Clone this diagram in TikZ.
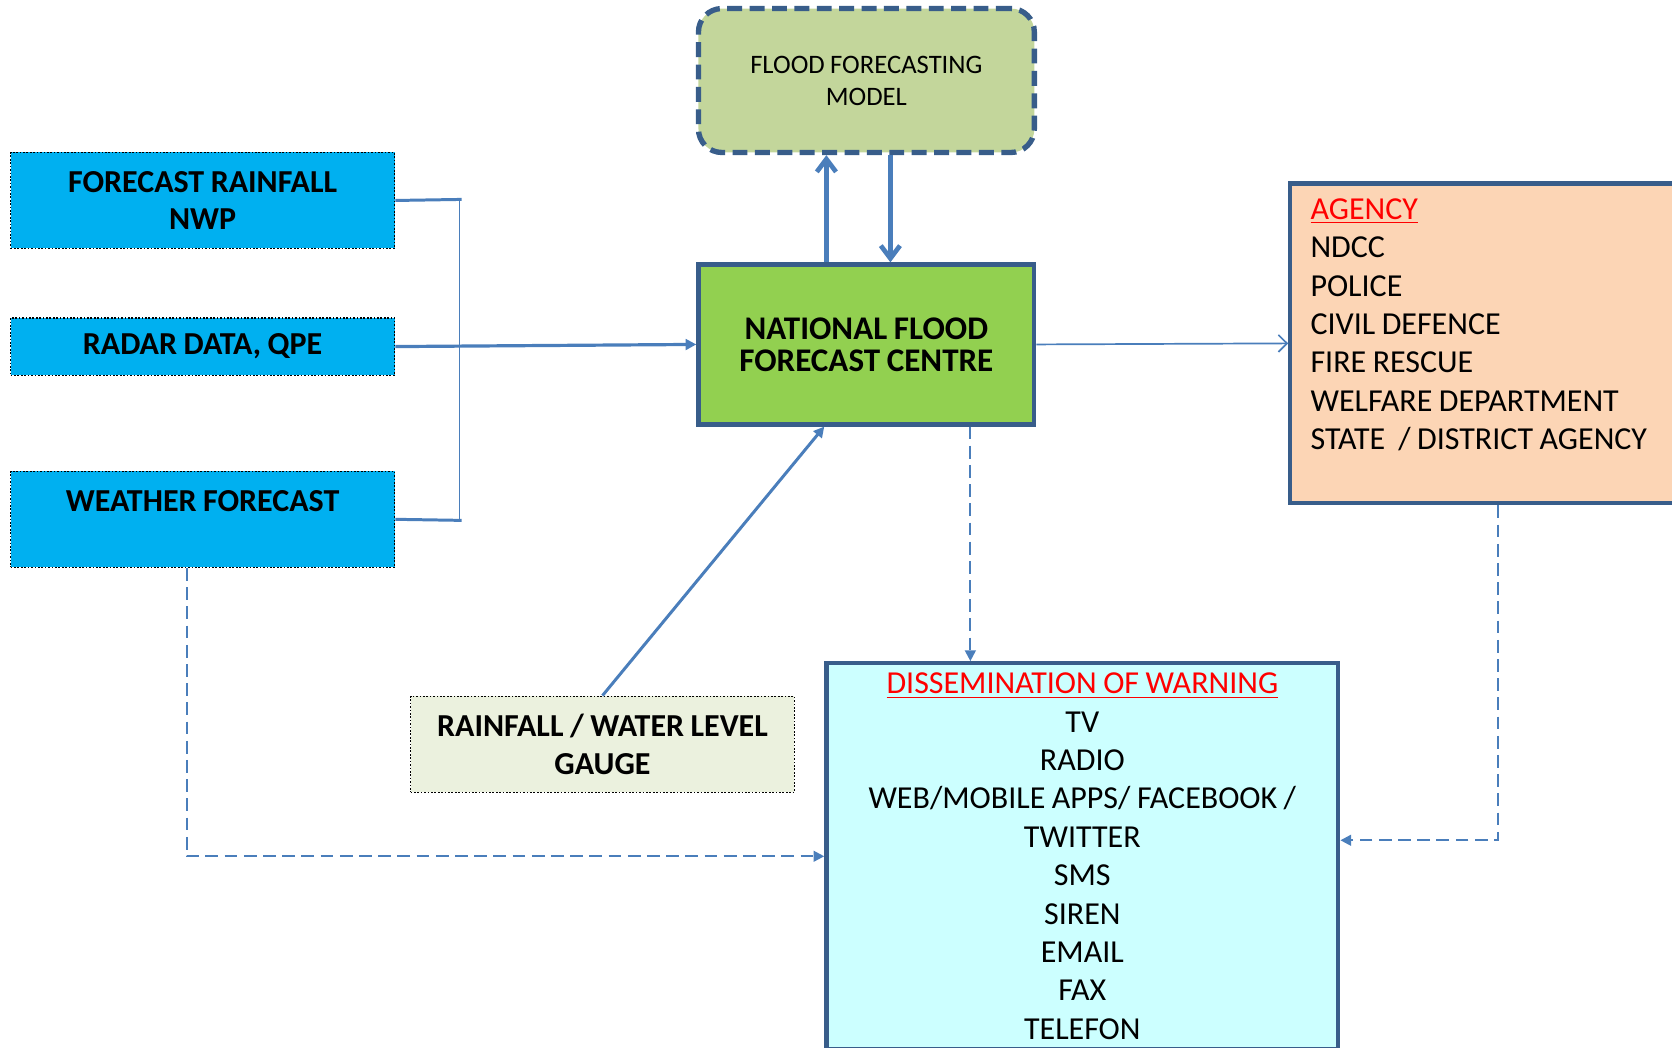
\documentclass[tikz,border=0pt]{standalone}
\usepackage{fontspec}
\setmainfont{Carlito}[WordSpace=0.9]
\usetikzlibrary{arrows.meta,calc}
\definecolor{skyb}{HTML}{00B0F0}
\definecolor{modelg}{HTML}{C3D69B}
\definecolor{nffcg}{HTML}{92D050}
\definecolor{agencyc}{HTML}{FCD5B5}
\definecolor{dissc}{HTML}{CCFFFF}
\definecolor{gaugec}{HTML}{EBF1DE}
\definecolor{bord}{HTML}{385D8A}
\definecolor{lineb}{HTML}{4A7EBB}
\begin{document}
\begin{tikzpicture}[x=0.5pt,y=-0.5pt,
  inbox/.style={draw=black,line width=0.7pt,dash pattern=on 0.8pt off 0.8pt,fill=skyb,
    minimum width=180pt,inner sep=0pt,align=center,font=\fontsize{15}{17.5}\selectfont\bfseries},
  mainbox/.style={draw=bord,line width=2pt,inner sep=0pt},
  conn/.style={draw=lineb,line width=1pt},
  dconn/.style={draw=lineb,line width=1pt,dash pattern=on 6pt off 3pt,-{Triangle[length=5pt,width=5pt]}},
  bigarr/.style={draw=lineb,line width=2.5pt},
]
\useasboundingbox (0,0) rectangle (1568,982);
% nodes
\node[draw=bord,line width=2.5pt,dash pattern=on 7pt off 3.5pt,rounded corners=11pt,fill=modelg,
  minimum width=157.5pt,minimum height=67.5pt,inner sep=0pt,align=center,
  font=\fontsize{12.5}{15}\selectfont] (model) at (812.5,75.5) {FLOOD FORECASTING\\MODEL};
\node[mainbox,fill=nffcg,minimum width=157.5pt,minimum height=75pt,align=center,
  font=\fontsize{15.5}{15}\selectfont\bfseries] (nffc) at (812.5,323) {NATIONAL FLOOD\\FORECAST CENTRE};
\node[inbox,minimum height=45pt] (frn) at (190,188) {FORECAST RAINFALL\\NWP};
\node[inbox,minimum height=27pt] (radar) at (190,325) {RADAR DATA, QPE};
\node[inbox,minimum height=45pt] (weather) at (190,487) {WEATHER FORECAST\\\mbox{}};
\node[inbox,fill=gaugec,minimum height=45pt] (gauge) at (565,698) {RAINFALL / WATER LEVEL\\GAUGE};
\node[mainbox,fill=agencyc,minimum width=190pt,minimum height=150pt,inner xsep=9.5pt,
  text width=171pt,align=flush left,font=\fontsize{15}{18}\selectfont] (agency) at (1400,322)
  {{\color{red}\underline{AGENCY}}\\NDCC\\POLICE\\CIVIL DEFENCE\\FIRE RESCUE\\WELFARE DEPARTMENT\\STATE~~/ DISTRICT AGENCY\\\mbox{}};
\node[mainbox,fill=dissc,minimum width=240pt,minimum height=181pt,align=center,
  font=\fontsize{15}{18}\selectfont] (dissem) at (1015,803)
  {{\color{red}\underline{DISSEMINATION OF WARNING}}\\TV\\RADIO\\WEB/MOBILE APPS/ FACEBOOK /\\TWITTER\\SMS\\SIREN\\EMAIL\\FAX\\TELEFON};
% bracket
\coordinate (bt) at (431,187);
\coordinate (bb) at (431,488);
\draw[conn,line width=1.4pt] (frn.east) -- ([xshift=1pt]bt);
\draw[conn,line width=1.4pt] (weather.east) -- ([xshift=1pt]bb);
\draw[conn,line width=0.8pt] (bt) -- (bb);
% connectors
\draw[conn,line width=1.5pt,-{Triangle[length=5pt,width=5pt]}] (radar.east) -- (nffc.west);
\draw[bigarr,-{Straight Barb[length=6pt,width=9pt,line width=2.2pt]}] ([xshift=-18.75pt]nffc.north) -- ([xshift=-18.75pt]model.south);
\draw[bigarr,-{Straight Barb[length=6pt,width=9pt,line width=2.2pt]}] ([xshift=11.25pt]model.south) -- ([xshift=11.25pt]nffc.north);
\draw[conn,line width=0.8pt,-{Straight Barb[length=4pt,width=8pt,line width=0.8pt]}] (nffc.east) -- (agency.west);
\draw[conn,line width=1.4pt,-{Triangle[length=5pt,width=5pt]}] (gauge.north) -- ([xshift=-19.75pt]nffc.south);
\draw[dconn] ([xshift=48.75pt]nffc.south) -- ([xshift=-52.5pt]dissem.north);
\draw[dconn] ([xshift=-7.5pt]weather.south) |- (dissem.west);
\draw[dconn] ([xshift=2.5pt]agency.south) |- ([yshift=7.5pt]dissem.east);
\end{tikzpicture}
\end{document}
